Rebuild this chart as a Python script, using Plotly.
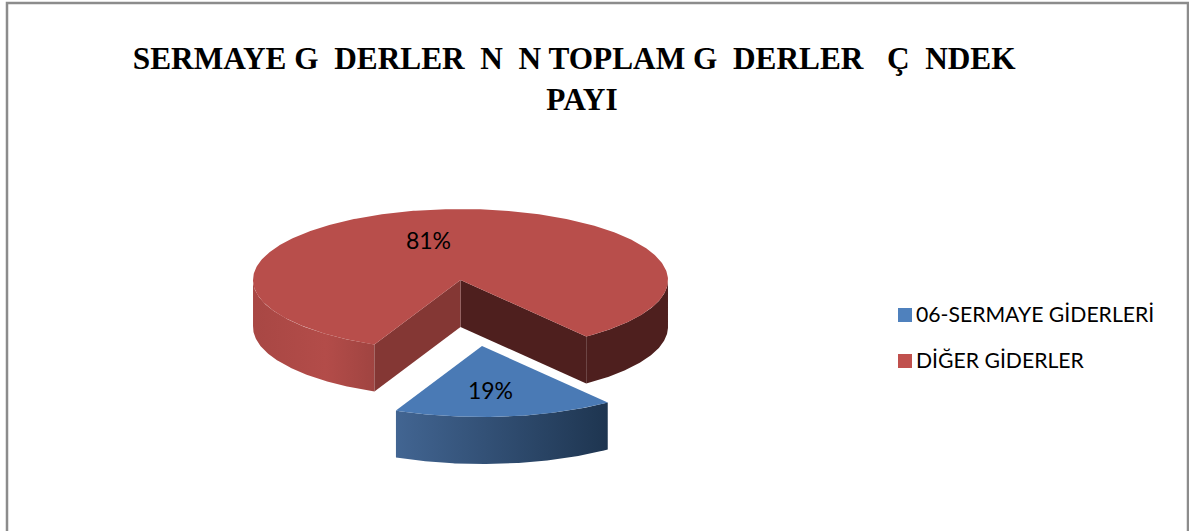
import numpy as np
import plotly.graph_objects as go

# Data
categories = ["06-SERMAYE GİDERLERİ", "DİĞER GİDERLER"]
values = [19, 81]
slice_colors = ["#4A7AB5", "#B84E4B"]
legend_colors = ["#4F81BD", "#C0504D"]
title_lines = ["SERMAYE G\u00a0\u00a0DERLER\u00a0\u00a0N\u00a0\u00a0N TOPLAM G\u00a0\u00a0DERLER\u00a0\u00a0\u00a0Ç\u00a0\u00a0NDEK\u00a0\u00a0", "PAYI"]

W, H = 1189, 531
CX, CY, RX, RY, DEPTH = 460.5, 280.0, 207.5, 71.0, 47.0
EXPLODE = (21.5, 66.0)
MID = 173.6      # clock angle of the centre of the first slice
WARP = -3.55     # perspective compression of the drawn angle


def proj(t):
    return t + WARP * np.sin(np.radians(2 * (t - MID)))


def arc(t0, t1, off=(0, 0), dz=0.0, n=120):
    p = np.radians(proj(np.linspace(t0, t1, n)))
    return CX + off[0] + RX * np.sin(p), CY + off[1] + dz - RY * np.cos(p)


def add_poly(fig, x, y, color=None, grad=None):
    kw = dict(fillcolor=color) if grad is None else dict(
        fillgradient=dict(type="horizontal", colorscale=grad))
    fig.add_trace(go.Scatter(x=np.r_[x, x[0]], y=np.r_[y, y[0]], mode="lines", fill="toself",
                             line=dict(width=0), hoverinfo="skip", showlegend=False, **kw))


total = sum(values)
sweep_blue = 360 * values[0] / total
t_b0 = MID - sweep_blue / 2
t_b1 = MID + sweep_blue / 2
t_r0, t_r1 = t_b1, t_b0 + 360

fig = go.Figure()

# red outer wall, left and right of the gap
x, y = arc(t_r0, 270)
x2, y2 = arc(270, t_r0, dz=DEPTH)
add_poly(fig, np.r_[x, x2], np.r_[y, y2],
         grad=[[0, "#A84744"], [0.6, "#B34C49"], [1, "#A04441"]])
x, y = arc(90, t_b0)
x2, y2 = arc(t_b0, 90, dz=DEPTH)
add_poly(fig, np.r_[x, x2], np.r_[y, y2], color="#4E1F1E")

# red inner cut faces
ex, ey = arc(t_b0, t_b0, n=1)
add_poly(fig, np.r_[CX, ex, ex, CX], np.r_[CY, ey, ey + DEPTH, CY + DEPTH], color="#4E1F1E")
ex, ey = arc(t_b1, t_b1, n=1)
add_poly(fig, np.r_[CX, ex, ex, CX], np.r_[CY, ey, ey + DEPTH, CY + DEPTH], color="#843734")

# red top
x, y = arc(t_r0, t_r1, n=400)
add_poly(fig, np.r_[CX, x], np.r_[CY, y], color=slice_colors[1])

# blue wall and top
x, y = arc(t_b0, t_b1, off=EXPLODE)
x2, y2 = arc(t_b1, t_b0, off=EXPLODE, dz=DEPTH)
add_poly(fig, np.r_[x, x2], np.r_[y, y2], grad=[[0, "#426592"], [1, "#1E3550"]])
add_poly(fig, np.r_[CX + EXPLODE[0], x], np.r_[CY + EXPLODE[1], y], color=slice_colors[0])

# data labels
fig.add_trace(go.Scatter(x=[490.5, 428.5], y=[393, 243], mode="text",
                         text=[f"{v}%" for v in values], hoverinfo="skip", showlegend=False,
                         textfont=dict(family="Lato", size=23, color="#000000")))

# legend
for c, col, ly in zip(categories, legend_colors, [315, 361]):
    fig.add_trace(go.Scatter(x=[905], y=[ly], mode="markers", name=c, hoverinfo="skip", showlegend=False,
                             marker=dict(symbol="square", size=14, color=col)))
    fig.add_trace(go.Scatter(x=[916], y=[ly + 2], mode="text", name=c, text=[c],
                             textposition="middle right", hoverinfo="skip", showlegend=False,
                             textfont=dict(family="Lato", size=21.2, color="#000000")))

fig.update_layout(
    width=W, height=H, margin=dict(l=0, r=0, t=0, b=0),
    paper_bgcolor="white", plot_bgcolor="white",
    xaxis=dict(range=[0, W], visible=False),
    yaxis=dict(range=[H, 0], visible=False),
    title=dict(text="<br>".join(title_lines), x=582 / W, xanchor="center", y=1 - 69 / H, yanchor="top",
               font=dict(family="Liberation Serif", size=31.3, color="#000000", weight="bold")),
    shapes=[dict(type="rect", xref="x", yref="y", x0=7, x1=1188, y0=3, y1=H + 10,
                 line=dict(color="#8C8C8C", width=2.5))],
)
fig.write_html("out.html", config=dict(displayModeBar=False),
               post_script="document.body.style.margin='0';document.body.style.overflow='hidden';")
